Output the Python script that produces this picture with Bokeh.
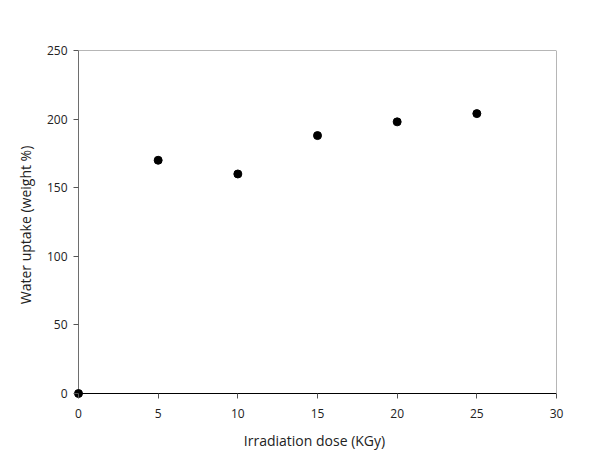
from bokeh.plotting import figure
from bokeh.models import ColumnDataSource, Range1d, FixedTicker
from bokeh.embed import file_html
from bokeh.resources import INLINE

# Irradiation dose (kGy) vs. water uptake (weight %)
dose = [0, 5, 10, 15, 20, 25]
uptake = [0, 170, 160, 188, 198, 204]
x_ticks = [0, 5, 10, 15, 20, 25, 30]
y_ticks = [0, 50, 100, 150, 200, 250]

src = ColumnDataSource(data=dict(x=dose, y=uptake))

# The frame is padded a few pixels past the origin so the point at (0, 0)
# is drawn whole; the visible box is drawn separately at the tick limits.
PAD_PX = 6
plot_w, plot_h = 478, 343
x0, x1 = x_ticks[0], x_ticks[-1]
y0, y1 = y_ticks[0], y_ticks[-1]
x_pad = PAD_PX * (x1 - x0) / plot_w
y_pad = PAD_PX * (y1 - y0) / plot_h

p = figure(width=600, height=459, output_backend="svg", toolbar_location=None,
           x_range=Range1d(x0 - x_pad, x1), y_range=Range1d(y0 - y_pad, y1),
           min_border_left=78 - PAD_PX, min_border_right=44,
           min_border_top=50, min_border_bottom=66 - PAD_PX)

p.grid.visible = False
p.outline_line_color = None

# box: gray left/top/right edges, black baseline
p.segment(x0=[x0, x0, x1], y0=[y0, y1, y0], x1=[x0, x1, x1], y1=[y1, y1, y1],
          line_color="#6e6e6e", line_width=1)
p.segment(x0=[x0], y0=[y0], x1=[x1], y1=[y0], line_color="black", line_width=1)

p.scatter("x", "y", source=src, size=8, color="black")

font = "Open Sans"
p.xaxis.ticker = FixedTicker(ticks=x_ticks)
p.yaxis.ticker = FixedTicker(ticks=y_ticks)
for ax in (p.xaxis[0], p.yaxis[0]):
    ax.axis_line_color = None
    ax.minor_tick_line_color = None
    ax.major_tick_line_color = "#555555"
    ax.major_tick_in = PAD_PX
    ax.major_tick_out = -1
    ax.major_label_text_font = font
    ax.major_label_text_font_size = "12px"
    ax.major_label_text_color = "#222222"
    ax.axis_label_text_font = font
    ax.axis_label_text_font_size = "14px"
    ax.axis_label_text_font_style = "normal"
    ax.axis_label_text_color = "#222222"

p.xaxis.axis_label = "Irradiation dose (KGy)"
p.yaxis.axis_label = "Water uptake (weight %)"
p.xaxis.major_label_standoff = 9
p.xaxis.axis_label_standoff = 10
p.yaxis.major_label_standoff = 5
p.yaxis.axis_label_standoff = 9

open("out.html", "w").write(file_html(p, INLINE))
